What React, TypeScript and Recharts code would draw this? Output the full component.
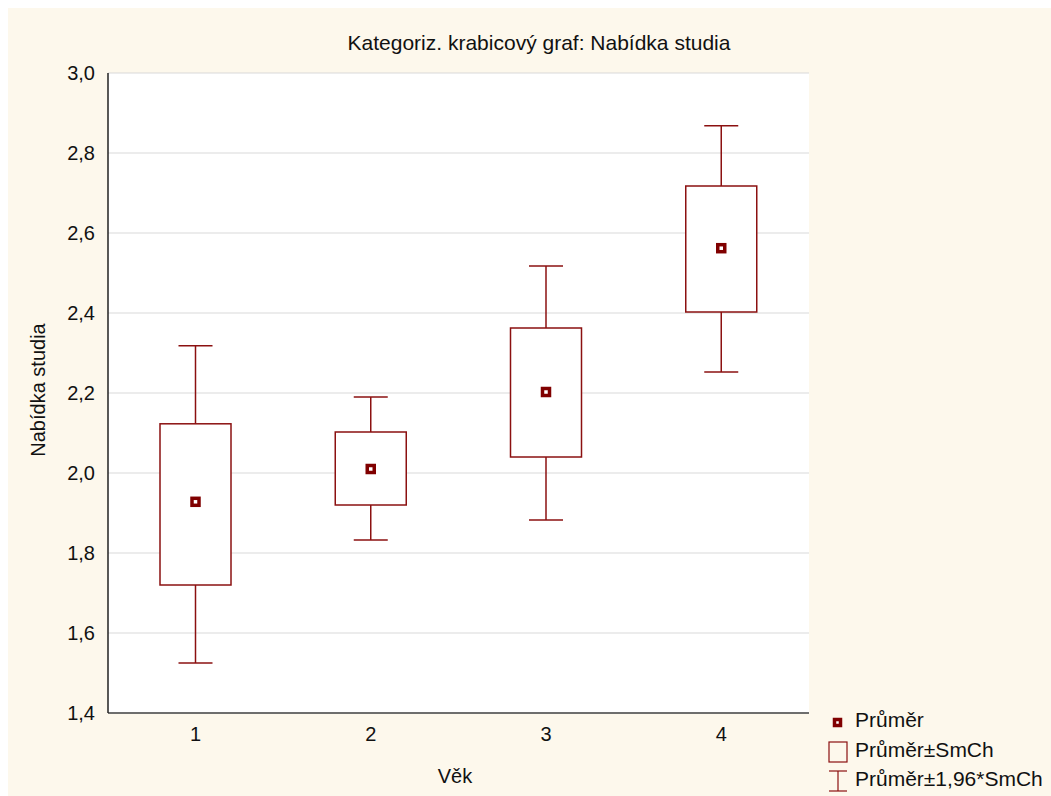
import React from "react";
import { ComposedChart, Bar, XAxis, YAxis, CartesianGrid } from "recharts";

// values (Nabídka studia by Věk)
const categories = ["1", "2", "3", "4"];
const means = [1.928, 2.01, 2.2025, 2.562];
const boxLow = [1.72, 1.92, 2.04, 2.4025];
const boxHigh = [2.123, 2.1025, 2.3625, 2.7175];
const whiskerLow = [1.525, 1.8325, 1.8825, 2.2525];
const whiskerHigh = [2.318, 2.19, 2.5175, 2.868];
const yTicks = [1.4, 1.6, 1.8, 2.0, 2.2, 2.4, 2.6, 2.8, 3.0];

const RED = "#8b1010";
const FONT = "'Liberation Sans', Arial, sans-serif";

const data = categories.map((c, i) => ({
  cat: c,
  mean: means[i],
  lo: boxLow[i],
  hi: boxHigh[i],
  whisker: [whiskerLow[i], whiskerHigh[i]],
}));

// draws whiskers + box + mean marker; pixel mapping comes from the bar's own range
function BoxShape(props: any) {
  const { x, y, width, height, payload } = props;
  const [wLo, wHi] = payload.whisker;
  const k = height / (wHi - wLo);
  const toY = (v: number) => y + (wHi - v) * k;
  const cx = x + width / 2;
  const cap = 17;
  const top = toY(payload.hi);
  const bot = toY(payload.lo);
  const my = toY(payload.mean);
  return (
    <g stroke={RED} strokeWidth={1.5} fill="none">
      <line x1={cx} x2={cx} y1={y} y2={top} />
      <line x1={cx} x2={cx} y1={bot} y2={y + height} />
      <line x1={cx - cap} x2={cx + cap} y1={y} y2={y} />
      <line x1={cx - cap} x2={cx + cap} y1={y + height} y2={y + height} />
      <rect x={x} y={top} width={width} height={bot - top} fill="#fff" />
      <rect x={cx - 3.5} y={my - 3.5} width={7} height={7} fill="#fff" stroke="#800000" strokeWidth={3.5} />
    </g>
  );
}

const fmt = (v: number) => v.toFixed(1).replace(".", ",");

export default function App() {
  return (
    <div style={{ position: "absolute", left: 8, top: 8, width: 1043, height: 788, background: "#fdf8ec", fontFamily: FONT, color: "#111", overflow: "hidden" }}>
      <div style={{ position: "absolute", left: 0, width: 1062, top: 22, textAlign: "center", fontSize: 21, lineHeight: "26px" }}>
        Kategoriz. krabicový graf: Nabídka studia
      </div>
      <ComposedChart width={1043} height={788} data={data} margin={{ top: 65, right: 242, bottom: 0, left: 0 }}>
        <CartesianGrid vertical={false} stroke="#d9d9d9" fill="#ffffff" />
        <XAxis
          dataKey="cat"
          height={83}
          axisLine={{ stroke: "#444", strokeWidth: 1.5 }}
          tickLine={false}
          tickSize={0}
          tickMargin={14}
          tick={{ fill: "#111", fontSize: 20, fontFamily: FONT }}
        />
        <XAxis dataKey="cat" xAxisId="top" orientation="top" height={0} axisLine={{ stroke: "#555", strokeWidth: 1.5 }} tick={false} tickLine={false} />
        <YAxis
          domain={[1.4, 3.0]}
          ticks={yTicks}
          width={100}
          axisLine={{ stroke: "#222", strokeWidth: 1.5 }}
          tickLine={false}
          tickSize={0}
          tickMargin={13}
          tickFormatter={fmt}
          tick={{ fill: "#111", fontSize: 20, fontFamily: FONT }}
        />
        <YAxis yAxisId="right" orientation="right" width={0} domain={[1.4, 3.0]} axisLine={{ stroke: "#222", strokeWidth: 1.5 }} tick={false} tickLine={false} />
        <Bar dataKey="whisker" barSize={71} shape={<BoxShape />} isAnimationActive={false} />
      </ComposedChart>
      <div style={{ position: "absolute", left: 30, top: 382, fontSize: 20, lineHeight: "24px", whiteSpace: "nowrap", transform: "translate(-50%, -50%) rotate(-90deg)" }}>
        Nabídka studia
      </div>
      <div style={{ position: "absolute", left: 447, top: 768, fontSize: 20, lineHeight: "24px", transform: "translate(-50%, -50%)" }}>Věk</div>
      <svg style={{ position: "absolute", left: 815, top: 700 }} width={30} height={88}>
        <rect x={11.5} y={11.5} width={6} height={6} fill="#fff" stroke="#800000" strokeWidth={3.5} />
        <rect x={6} y={34} width={18} height={20} fill="none" stroke={RED} strokeWidth={1.2} />
        <g stroke={RED} strokeWidth={1.2}>
          <line x1={6} x2={24} y1={63} y2={63} />
          <line x1={15} x2={15} y1={63} y2={83} />
          <line x1={6} x2={24} y1={83} y2={83} />
        </g>
      </svg>
      <div style={{ position: "absolute", left: 847, top: 700, fontSize: 21, lineHeight: "24px" }}>Průměr</div>
      <div style={{ position: "absolute", left: 847, top: 730, fontSize: 21, lineHeight: "24px" }}>Průměr±SmCh</div>
      <div style={{ position: "absolute", left: 847, top: 759, fontSize: 21, lineHeight: "24px" }}>Průměr±1,96*SmCh</div>
    </div>
  );
}
